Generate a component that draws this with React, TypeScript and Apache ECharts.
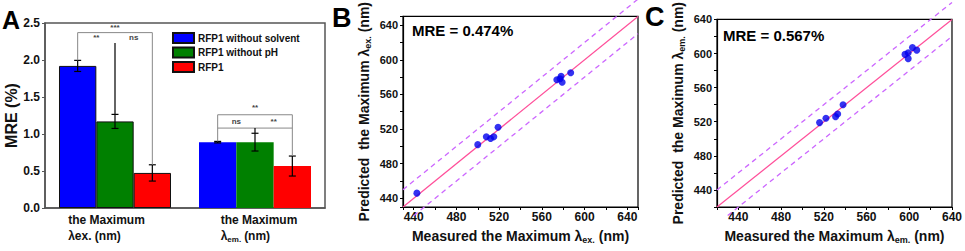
import React, { useEffect, useRef } from 'react';
import * as echarts from 'echarts';

// ---------- Panel A data ----------
const groupCats = ['ex', 'em'];
const seriesNames = ['RFP1 without solvent', 'RFP1 without pH', 'RFP1'];
const seriesColors = ['#0000ff', '#008000', '#ff0000'];
const withoutSolvent = [1.92, 0.89];
const withoutPH = [1.17, 0.89];
const rfp1 = [0.474, 0.567];
const errWithoutSolvent = [0.075, 0.01];
const errWithoutPH = [0.095, 0.12];
const errRfp1 = [0.11, 0.135];
const mreTickLabels = ['0.0', '0.5', '1.0', '1.5', '2.0', '2.5'];

// significance marks: [category, barFrom, barTo, y]
const sigLines = [
  [0, 0, 2, 2.37],
  [1, 0, 2, 1.26],
  [1, 0, 2, 1.08],
];
// vertical legs: [category, bar, yFrom, yTo, dark(1)/grey(0)]
const sigLegs = [
  [0, 0, 1.995, 2.37, 0],
  [0, 2, 0.584, 2.37, 0],
  [0, 1, 1.265, 2.23, 1],
  [1, 0, 0.9, 1.26, 0],
  [1, 2, 0.702, 1.26, 0],
  [1, 1, 1.01, 1.08, 1],
];
// labels: [category, barPosition, y]
const sigLabelPos = [
  [0, 1, 2.38],
  [0, 0.5, 2.25],
  [0, 1.5, 2.25],
  [1, 1, 1.3],
  [1, 0.5, 1.11],
  [1, 1.5, 1.11],
];
const sigLabels = ['***', '**', 'ns', '**', 'ns', '**'];

// ---------- Panels B / C data ----------
const measuredEx = [443, 500, 508, 512, 515, 519, 574, 577, 578, 579, 587];
const predictedEx = [446, 502, 511, 509, 511, 522, 577, 578, 581, 574, 585];
const measuredEm = [516, 522, 531, 533, 538, 596, 599, 599, 603, 607];
const predictedEm = [519, 524, 526, 529, 540, 599, 601, 594, 607, 604];
const rangeEx = [430, 650];
const rangeEm = [420, 640];
const bandNm = 20;
const nmTickLabels = [440, 480, 520, 560, 600, 640];

const FONT = '"Liberation Sans", Arial, Helvetica, sans-serif';

const values = [withoutSolvent, withoutPH, rfp1];
const errs = [errWithoutSolvent, errWithoutPH, errRfp1];

function barX(api: any, cat: number, pos: number) {
  const band = api.size([1, 0])[0];
  const bw = (band * 0.8) / 3;
  return api.coord([cat, 0])[0] + (pos - 1) * bw;
}

function buildOption() {
  const errData: number[][] = [];
  values.forEach((vals, s) =>
    vals.forEach((v, c) => errData.push([c, v, errs[s][c], s]))
  );

  const barSeries = values.map((vals, s) => ({
    type: 'bar',
    name: seriesNames[s],
    xAxisIndex: 0,
    yAxisIndex: 0,
    barGap: '0%',
    barCategoryGap: '20%',
    itemStyle: { color: seriesColors[s], borderColor: '#111', borderWidth: 1 },
    data: vals.map((v, c) => (c === 0 ? v : { value: v, itemStyle: { borderWidth: 0 } })),
  }));

  const lineStyleBase = { stroke: '#000', lineWidth: 1.2 };

  const errSeries = {
    type: 'custom',
    xAxisIndex: 0,
    yAxisIndex: 0,
    silent: true,
    z: 5,
    encode: { x: 0, y: 1 },
    data: errData,
    renderItem: (params: any, api: any) => {
      const c = api.value(0), v = api.value(1), e = api.value(2), s = api.value(3);
      const x = barX(api, c, s);
      const yt = api.coord([c, v + e])[1];
      const yb = api.coord([c, v - e])[1];
      const cap = 3.5;
      return {
        type: 'group',
        children: [
          { type: 'line', shape: { x1: x, y1: yt, x2: x, y2: yb }, style: lineStyleBase },
          { type: 'line', shape: { x1: x - cap, y1: yt, x2: x + cap, y2: yt }, style: lineStyleBase },
          { type: 'line', shape: { x1: x - cap, y1: yb, x2: x + cap, y2: yb }, style: lineStyleBase },
        ],
      };
    },
  };

  const sigLineSeries = {
    type: 'custom',
    xAxisIndex: 0,
    yAxisIndex: 0,
    silent: true,
    z: 6,
    encode: { x: 0, y: 3 },
    data: sigLines,
    renderItem: (params: any, api: any) => {
      const c = api.value(0), a = api.value(1), b = api.value(2), y = api.value(3);
      const x1 = barX(api, c, a), x2 = barX(api, c, b);
      const py = api.coord([c, y])[1];
      return { type: 'line', shape: { x1, y1: py, x2, y2: py }, style: { stroke: '#888', lineWidth: 1 } };
    },
  };

  const sigLegSeries = {
    type: 'custom',
    xAxisIndex: 0,
    yAxisIndex: 0,
    silent: true,
    z: 6,
    encode: { x: 0, y: 2 },
    data: sigLegs,
    renderItem: (params: any, api: any) => {
      const c = api.value(0), b = api.value(1), y1 = api.value(2), y2 = api.value(3), dark = api.value(4);
      const x = barX(api, c, b);
      return {
        type: 'line',
        shape: { x1: x, y1: api.coord([c, y1])[1], x2: x, y2: api.coord([c, y2])[1] },
        style: { stroke: dark ? '#111' : '#888', lineWidth: dark ? 1.3 : 1 },
      };
    },
  };

  const sigTextSeries = {
    type: 'custom',
    xAxisIndex: 0,
    yAxisIndex: 0,
    silent: true,
    z: 7,
    encode: { x: 0, y: 2 },
    data: sigLabelPos,
    renderItem: (params: any, api: any) => {
      const c = api.value(0), p = api.value(1), y = api.value(2);
      return {
        type: 'text',
        x: barX(api, c, p),
        y: api.coord([c, y])[1],
        style: {
          text: sigLabels[params.dataIndex],
          fill: '#444',
          font: `bold 8px ${FONT}`,
          align: 'center',
          verticalAlign: 'bottom',
        },
      };
    },
  };

  const nmAxisCommon = (range: number[]) => ({
    type: 'value',
    min: range[0],
    max: range[1],
    splitNumber: 11,
    minInterval: 20,
    maxInterval: 20,
    splitLine: { show: false },
    axisLine: { show: true, lineStyle: { color: '#000', width: 1.2 } },
    axisTick: { show: true, inside: false, length: 3, lineStyle: { color: '#000', width: 1 } },
    axisLabel: {
      fontSize: 12,
      fontWeight: 'bold',
      color: '#111',
      fontFamily: FONT,
      showMinLabel: true,
      showMaxLabel: true,
      formatter: (v: number) => (nmTickLabels.includes(v) ? String(v) : ''),
    },
    nameLocation: 'middle',
    nameTextStyle: {
      fontSize: 14,
      fontWeight: 'bold',
      color: '#111',
      fontFamily: FONT,
      rich: { s: { fontSize: 9, fontWeight: 'bold', fontFamily: FONT, color: '#111', padding: [7, 0, 0, 0] } },
    },
  });

  const refLines = (range: number[], axisIdx: number) => [
    {
      type: 'line',
      xAxisIndex: axisIdx,
      yAxisIndex: axisIdx,
      silent: true,
      symbol: 'none',
      z: 2,
      lineStyle: { color: '#ff4f9a', width: 1.2 },
      data: [[range[0], range[0]], [range[1], range[1]]],
    },
    {
      type: 'line',
      xAxisIndex: axisIdx,
      yAxisIndex: axisIdx,
      silent: true,
      symbol: 'none',
      clip: false,
      z: 2,
      lineStyle: { color: '#cc66ff', width: 1.3, type: [5, 4] },
      data: [[range[0], range[0] + bandNm], [range[1], range[1] + bandNm]],
    },
    {
      type: 'line',
      xAxisIndex: axisIdx,
      yAxisIndex: axisIdx,
      silent: true,
      symbol: 'none',
      clip: false,
      z: 2,
      lineStyle: { color: '#cc66ff', width: 1.3, type: [5, 4] },
      data: [[range[0] + 10, range[0] - bandNm + 10], [range[1], range[1] - bandNm]],
    },
  ];

  const titleStyle = (size: number) => ({ fontSize: size, fontWeight: 'bold', color: '#000', fontFamily: FONT });

  return {
    animation: false,
    textStyle: { fontFamily: FONT },
    title: [
      { text: 'A', left: 2, top: 7, padding: 0, textStyle: titleStyle(25) },
      { text: 'B', left: 332, top: 4, padding: 0, textStyle: titleStyle(27) },
      { text: 'C', left: 645, top: 3, padding: 0, textStyle: titleStyle(27) },
      { text: `MRE = ${rfp1[0].toFixed(3)}%`, left: 412, top: 23, padding: 0, textStyle: titleStyle(15) },
      { text: `MRE = ${rfp1[1].toFixed(3)}%`, left: 723, top: 28, padding: 0, textStyle: titleStyle(15) },
    ],
    legend: {
      data: seriesNames,
      orient: 'vertical',
      left: 172,
      top: 32,
      padding: 0,
      itemWidth: 21,
      itemHeight: 10,
      itemGap: 2.5,
      icon: 'rect',
      selectedMode: false,
      textStyle: { fontSize: 10, fontWeight: 'bold', color: '#111', fontFamily: FONT, lineHeight: 10, padding: [0, 0, 0, -1] },
    },
    grid: [
      { left: 45, top: 23, width: 280, height: 185, show: true, borderColor: '#555', borderWidth: 1.5, backgroundColor: 'transparent' },
      { left: 403, top: 15, width: 235, height: 192, show: true, borderColor: '#000', borderWidth: 1.2, backgroundColor: 'transparent' },
      { left: 717, top: 15, width: 235, height: 192, show: true, borderColor: '#000', borderWidth: 1.2, backgroundColor: 'transparent' },
    ],
    xAxis: [
      {
        type: 'category',
        gridIndex: 0,
        data: groupCats,
        axisLine: { show: true, lineStyle: { color: '#555', width: 1.5 } },
        axisTick: { show: false },
        axisLabel: {
          margin: 4,
          interval: 0,
          color: '#111',
          fontSize: 12,
          fontWeight: 'bold',
          fontFamily: FONT,
          lineHeight: 16,
          formatter: (v: string, idx: number) =>
            idx === 0
              ? '{t0|the Maximum}\n{l|λ}{n|ex. (nm)}'
              : '{t1|the Maximum}\n{l1|λ}{s|em.}{n|(nm)}',
          rich: {
            t0: { align: 'left', fontSize: 12, fontWeight: 'bold', fontFamily: FONT, color: '#111', padding: [0, 17, 0, 0] },
            t1: { align: 'left', fontSize: 12, fontWeight: 'bold', fontFamily: FONT, color: '#111', padding: [0, 0, 0, 8] },
            l: { align: 'left', fontSize: 12, fontFamily: FONT, color: '#111' },
            l1: { align: 'left', fontSize: 12, fontFamily: FONT, color: '#111', padding: [0, 0, 0, 8] },
            s: { align: 'left', fontSize: 8, fontWeight: 'bold', fontFamily: FONT, color: '#111', padding: [6, 3, 0, 0] },
            n: { align: 'left', fontSize: 12, fontWeight: 'bold', fontFamily: FONT, color: '#111' },
          },
        },
      },
      {
        ...nmAxisCommon(rangeEx),
        gridIndex: 1,
        name: 'Measured the Maximum λ{s|ex.} (nm)',
        nameGap: 21,
        axisLabel: { ...nmAxisCommon(rangeEx).axisLabel, margin: 4 },
      },
      {
        ...nmAxisCommon(rangeEm),
        gridIndex: 2,
        name: 'Measured the Maximum λ{s|em.} (nm)',
        nameGap: 21,
        axisLabel: { ...nmAxisCommon(rangeEm).axisLabel, margin: 4 },
      },
    ],
    yAxis: [
      {
        type: 'value',
        gridIndex: 0,
        min: 0,
        max: 2.5,
        interval: 0.5,
        splitLine: { show: false },
        axisLine: { show: true, lineStyle: { color: '#555', width: 1.5 } },
        axisTick: { show: true, length: 3, lineStyle: { color: '#555' } },
        axisLabel: {
          fontSize: 12,
          fontWeight: 'bold',
          color: '#111',
          fontFamily: FONT,
          margin: 5,
          formatter: (v: number) => mreTickLabels[Math.round(v / 0.5)] ?? '',
        },
        name: 'MRE (%)',
        nameLocation: 'middle',
        nameGap: 22,
        nameTextStyle: { fontSize: 16, fontWeight: 'bold', color: '#111', fontFamily: FONT },
      },
      {
        ...nmAxisCommon(rangeEx),
        gridIndex: 1,
        name: 'Predicted  the Maximum λ{s|ex.} (nm)',
        nameGap: 31,
        axisLabel: { ...nmAxisCommon(rangeEx).axisLabel, fontSize: 11, margin: 5 },
      },
      {
        ...nmAxisCommon(rangeEm),
        gridIndex: 2,
        name: 'Predicted  the Maximum λ{s|em.} (nm)',
        nameGap: 31,
        axisLabel: { ...nmAxisCommon(rangeEm).axisLabel, fontSize: 11, margin: 5 },
      },
    ],
    series: [
      ...barSeries,
      errSeries,
      sigLineSeries,
      sigLegSeries,
      sigTextSeries,
      ...refLines(rangeEx, 1),
      ...refLines(rangeEm, 2),
      {
        type: 'scatter',
        xAxisIndex: 1,
        yAxisIndex: 1,
        symbolSize: 7,
        z: 4,
        itemStyle: { color: '#0000ee' },
        data: measuredEx.map((m, i) => [m, predictedEx[i]]),
      },
      {
        type: 'scatter',
        xAxisIndex: 2,
        yAxisIndex: 2,
        symbolSize: 7,
        z: 4,
        itemStyle: { color: '#0000ee' },
        data: measuredEm.map((m, i) => [m, predictedEm[i]]),
      },
    ],
  };
}

export default function App() {
  const ref = useRef<HTMLDivElement>(null);
  useEffect(() => {
    if (!ref.current) return;
    const chart = echarts.init(ref.current, undefined, { renderer: 'svg' });
    chart.setOption(buildOption() as any);
    return () => chart.dispose();
  }, []);
  return (
    <div
      ref={ref}
      style={{ position: 'fixed', left: 0, top: 0, width: 965, height: 251, background: '#fff' }}
    />
  );
}
